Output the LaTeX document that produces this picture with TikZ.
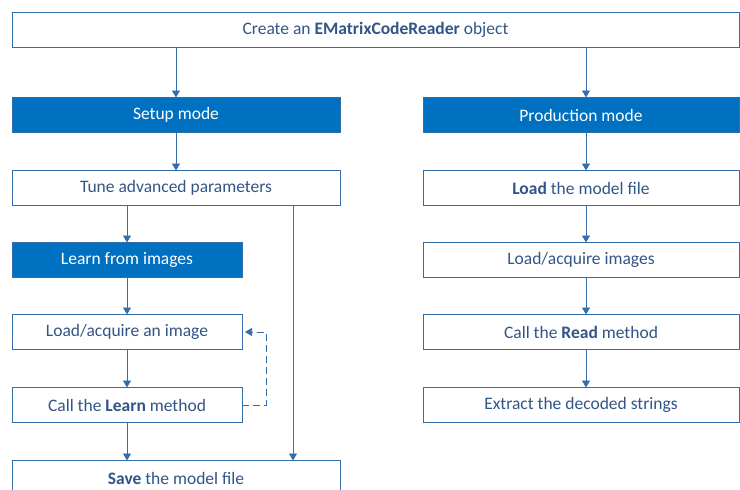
\documentclass[tikz,border=0pt]{standalone}
\usepackage{fontspec}
\setmainfont{Carlito}
\usetikzlibrary{arrows.meta}
\definecolor{FB}{RGB}{0,112,192}
\definecolor{LN}{RGB}{52,110,170}
\definecolor{TX}{RGB}{50,85,135}

\begin{document}
\begin{tikzpicture}[x=1pt, y=-1pt,
  box/.style={draw=LN, fill=white, line width=0.9pt, minimum height=35pt,
              outer sep=0pt, inner sep=0pt, text=TX,
              font=\fontsize{17.5}{20}\selectfont},
  mode/.style={box, fill=FB, text=white},
  arr/.style={-{Triangle[length=7pt,width=8pt]}, draw=LN, line width=0.9pt}
]
\useasboundingbox (0,0) rectangle (740,490);

\node[box, minimum width=727pt] (top) at (375.5,30)
  {Create an \textbf{EMatrixCodeReader} object};

% setup side
\node[mode, minimum width=328pt] (setup) at (176,115) {Setup mode};
\node[box,  minimum width=328pt] (tune)  at (176,188) {Tune advanced parameters};
\node[mode, minimum width=230pt] (learn) at (127,260) {Learn from images};
\node[box,  minimum width=230pt] (acq)   at (127,332) {Load/acquire an image};
\node[box,  minimum width=230pt] (call)  at (127,405) {Call the \textbf{Learn} method};
\node[box,  minimum width=328pt] (save)  at (176,478) {\textbf{Save} the model file};

% production side
\node[mode, minimum width=316pt] (prod)  at (581,115) {Production mode};
\node[box,  minimum width=316pt] (load)  at (581,188) {\textbf{Load} the model file};
\node[box,  minimum width=316pt] (imgs)  at (581,260) {Load/acquire images};
\node[box,  minimum width=316pt] (read)  at (581,332) {Call the \textbf{Read} method};
\node[box,  minimum width=316pt] (extr)  at (581,405) {Extract the decoded strings};

\coordinate (px) at (586,0);
\coordinate (bx) at (293,0);

\draw[arr] (top.south -| setup.north) -- (setup.north);
\draw[arr] (setup) -- (tune);
\draw[arr] (tune.south -| learn.north) -- (learn.north);
\draw[arr] (learn) -- (acq);
\draw[arr] (acq) -- (call);
\draw[arr] (call.south) -- (save.north -| call.south);
\draw[arr] (tune.south -| bx) -- (save.north -| bx);

% repeat loop
\draw[arr, line width=0.6pt, dash pattern=on 7pt off 4pt]
  (call.east) -- ++(24,0) |- ([xshift=3pt]acq.east);

\draw[arr] (top.south -| px) -- (prod.north -| px);
\draw[arr] (prod.south -| px) -- (load.north -| px);
\draw[arr] (load.south -| px) -- (imgs.north -| px);
\draw[arr] (imgs.south -| px) -- (read.north -| px);
\draw[arr] (read.south -| px) -- (extr.north -| px);
\end{tikzpicture}
\end{document}
